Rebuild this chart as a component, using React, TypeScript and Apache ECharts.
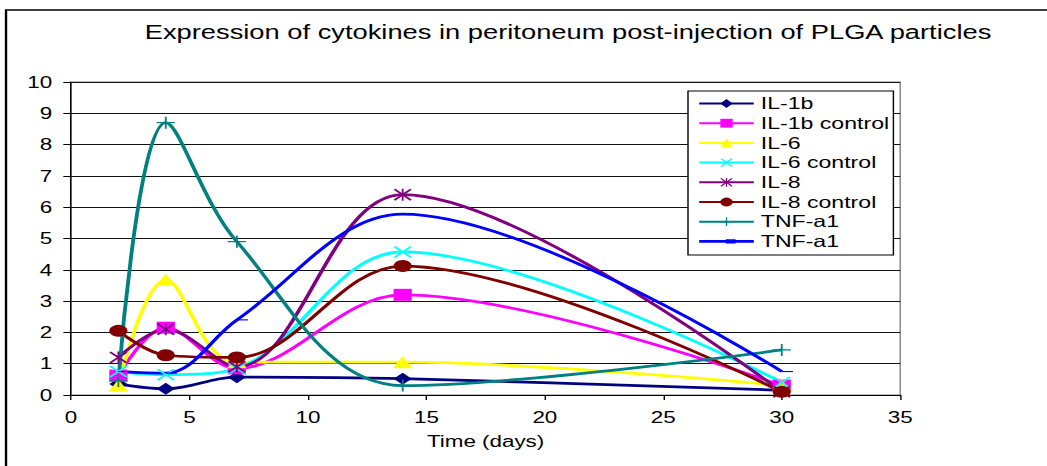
import React, { useEffect, useRef } from "react";
import * as echarts from "echarts";

// ---- data ----
const days = [2, 4, 7, 14, 30];
const seriesNames = ["IL-1b", "IL-1b control", "IL-6", "IL-6 control", "IL-8", "IL-8 control", "TNF-a1", "TNF-a1 "];
const il1b = [0.35, 0.2, 0.57, 0.52, 0.15];
const il1bControl = [0.62, 2.15, 0.85, 3.2, 0.3];
const il6 = [0.3, 3.68, 1.05, 1.05, 0.3];
const il6Control = [0.75, 0.65, 0.85, 4.57, 0.4];
const il8 = [1.2, 2.1, 0.9, 6.4, 0.1];
const il8Control = [2.05, 1.27, 1.2, 4.12, 0.1];
const tnfA = [0.45, 8.7, 4.9, 0.3, 1.44];
const tnfB = [0.75, 0.7, 2.4, 5.78, 0.75];
const xTicks = [0, 5, 10, 15, 20, 25, 30, 35];
const yTicks = [0, 1, 2, 3, 4, 5, 6, 7, 8, 9, 10];

const S = 1.4; // horizontal stretch of the original picture
const W = 1047 / S;
const H = 466;
const FONT = "Liberation Sans";

const X_SYM = "path://M0,0.9L0.9,0L5,4.1L9.1,0L10,0.9L5.9,5L10,9.1L9.1,10L5,5.9L0.9,10L0,9.1L4.1,5Z";
const AST_SYM = X_SYM + "M4.5,0L5.5,0L5.5,10L4.5,10Z";
const PLUS_SYM = "path://M4.5,0L5.5,0L5.5,4.5L10,4.5L10,5.5L5.5,5.5L5.5,10L4.5,10L4.5,5.5L0,5.5L0,4.5L4.5,4.5Z";
const DASH_SYM = "path://M0,0L8,0L8,3L0,3Z";
const DASH_LEGEND =
  "path://M0,0L0.01,0L0.01,0.01L0,0.01Z M0,4.1L39,4.1L39,6.9L0,6.9Z M19,3.4L26,3.4L26,7.6L19,7.6Z M38.99,10.99L39,10.99L39,11L38.99,11Z";

export default function App() {
  const ref = useRef<HTMLDivElement>(null);
  useEffect(() => {
    if (!ref.current) return;
    const chart = echarts.init(ref.current, null, { renderer: "svg" });
    const values = [il1b, il1bControl, il6, il6Control, il8, il8Control, tnfA, tnfB];
    const colors = ["#000080", "#FF00FF", "#FFFF00", "#00FFFF", "#800080", "#800000", "#008080", "#0000FF"];
    const symbols: any[] = ["diamond", "rect", "triangle", X_SYM, AST_SYM, "circle", PLUS_SYM, DASH_SYM];
    const sizes: any[] = [[13, 12], [13, 12], [14, 12], [13, 12], [13, 12], [13, 12], [13, 12], [8, 3]];
    const offsets: any[] = [[0, 0], [0, 0], [0, 0], [0, 0], [0, 0], [0, 0], [0, 0], [4, 0]];
    const series = values.map((vals, i) => ({
      name: seriesNames[i],
      type: "line",
      smooth: 0.35,
      data: days.map((d, j) => [d, vals[j]]),
      symbol: symbols[i],
      symbolSize: sizes[i],
      symbolOffset: offsets[i],
      symbolKeepAspect: true,
      showSymbol: true,
      lineStyle: { color: colors[i], width: 2.75 },
      itemStyle: { color: colors[i] },
      emphasis: { disabled: true },
    }));
    const legendData = seriesNames.map((n, i) =>
      i === seriesNames.length - 1 ? { name: n, icon: DASH_LEGEND, itemStyle: { color: colors[i] } } : { name: n }
    );
    chart.setOption({
      animation: false,
      textStyle: { fontFamily: FONT },
      grid: {
        left: 71 / S,
        right: W - 900 / S,
        top: 82,
        bottom: H - 395,
        show: true,
        borderColor: "#808080",
        borderWidth: 1,
        backgroundColor: "transparent",
      },
      legend: {
        orient: "vertical",
        left: 688 / S,
        top: 91,
        data: legendData,
        itemWidth: 39,
        itemHeight: 11,
        itemGap: 2.7,
        padding: [4, 3, 5, 7],
        borderColor: "#000",
        borderWidth: 1,
        backgroundColor: "#fff",
        textStyle: { fontFamily: FONT, fontSize: 16.5, color: "#000", lineHeight: 16 },
        selectedMode: false,
      },
      xAxis: {
        type: "value",
        min: xTicks[0],
        max: xTicks[xTicks.length - 1],
        interval: xTicks[1] - xTicks[0],
        name: "Time (days)",
        nameLocation: "middle",
        nameGap: 38,
        nameTextStyle: { fontFamily: FONT, fontSize: 16, color: "#000" },
        axisLine: { lineStyle: { color: "#000", width: 1 } },
        axisTick: { show: true, length: 5, lineStyle: { color: "#000" } },
        axisLabel: { fontFamily: FONT, fontSize: 16, color: "#000", margin: 14 },
        splitLine: { show: false },
      },
      yAxis: {
        type: "value",
        min: yTicks[0],
        max: yTicks[yTicks.length - 1],
        interval: yTicks[1] - yTicks[0],
        axisLine: { show: true, lineStyle: { color: "#000", width: 1 } },
        axisTick: { show: true, length: 5.5, lineStyle: { color: "#000" } },
        axisLabel: { fontFamily: FONT, fontSize: 16, color: "#000", margin: 13.5 },
        splitLine: { show: true, lineStyle: { color: "#111", width: 1 } },
      },
      graphic: [
        {
          type: "rect",
          shape: { x: 4.3, y: 10, width: 900, height: 600 },
          style: { fill: "none", stroke: "#000", lineWidth: 1.7 },
          silent: true,
        },
        {
          type: "text",
          x: 568 / S,
          y: 32,
          style: {
            text: "Expression of cytokines in peritoneum post-injection of PLGA particles",
            fontFamily: FONT,
            fontSize: 19.5,
            fill: "#000",
            textAlign: "center",
            textVerticalAlign: "middle",
          },
        },
      ],
      series,
    });
    return () => chart.dispose();
  }, []);
  return (
    <div
      style={{
        position: "fixed",
        left: 0,
        top: 0,
        width: 1047,
        height: H,
        overflow: "hidden",
        background: "#fff",
      }}
    >
      <div
        ref={ref}
        style={{
          width: W,
          height: H,
          transform: `scaleX(${S})`,
          transformOrigin: "0 0",
        }}
      />
    </div>
  );
}
